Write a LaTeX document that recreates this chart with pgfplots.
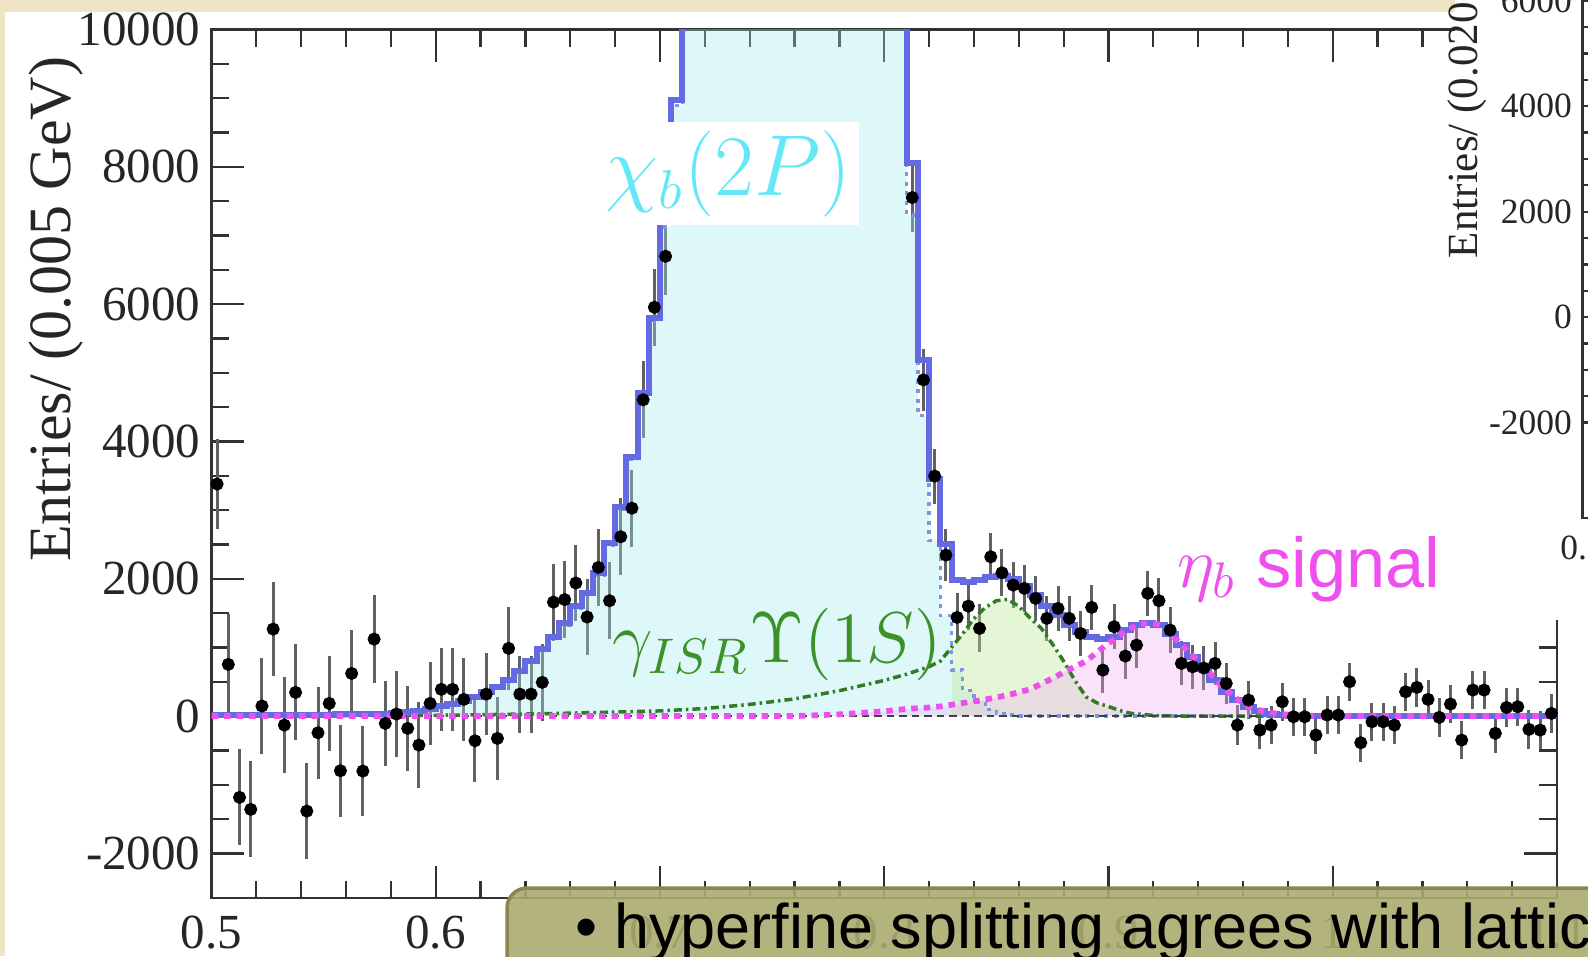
\documentclass[border=0pt]{standalone}
\usepackage{pgfplots}
\usepackage{pgfplotstable}
\pgfplotsset{compat=1.18}
\usepackage{fontspec}
\setmainfont{Liberation Serif}
\newfontfamily\helv{Liberation Sans}
\definecolor{beige}{RGB}{239,228,196}
\definecolor{fitblue}{RGB}{100,106,226}
\definecolor{chicyan}{RGB}{100,232,248}
\definecolor{cyanfill}{RGB}{161,235,241}
\definecolor{cyanedge}{RGB}{125,150,225}
\definecolor{isrgreen}{RGB}{60,145,40}
\definecolor{greenfill}{RGB}{189,232,149}
\definecolor{etamag}{RGB}{238,80,238}
\definecolor{pinkfill}{RGB}{241,169,241}
\definecolor{olivefill}{RGB}{171,171,112}
\definecolor{oliveedge}{RGB}{135,135,82}
\definecolor{axgray}{RGB}{50,50,50}

\pgfplotstableread{
x y e
0.5025 3380 650
0.5075 753 730
0.5125 -1184 700
0.5175 -1359 700
0.5225 146 700
0.5275 1267 690
0.5325 -131 700
0.5375 345 700
0.5425 -1384 700
0.5475 -243 670
0.5525 184 690
0.5575 -796 670
0.5625 621 640
0.5675 -801 660
0.5725 1121 640
0.5775 -107 620
0.5825 30 620
0.5875 -179 620
0.5925 -422 620
0.5975 185 600
0.6025 389 600
0.6075 389 600
0.6125 243 600
0.6175 -359 600
0.6225 320 600
0.6275 -325 600
0.6325 986 600
0.6375 320 560
0.6425 320 560
0.6475 491 560
0.6525 1660 560
0.6575 1697 560
0.6625 1938 560
0.6675 1443 560
0.6725 2165 560
0.6775 1680 560
0.6825 2612 560
0.6875 3028 560
0.6925 4607 560
0.6975 5954 560
0.7025 6697 560
0.8125 7552 500
0.8175 4897 450
0.8225 3495 400
0.8275 2345 380
0.8325 1437 350
0.8375 1602 350
0.8425 1277 350
0.8475 2320 340
0.8525 2087 340
0.8575 1908 340
0.8625 1860 340
0.8675 1714 330
0.8725 1423 330
0.8775 1568 330
0.8825 1423 330
0.8875 1204 330
0.8925 1583 330
0.8975 670 330
0.9025 1301 330
0.9075 874 330
0.9125 1034 330
0.9175 1787 330
0.9225 1680 330
0.9275 1253 330
0.9325 767 320
0.9375 718 320
0.9425 700 320
0.9475 767 310
0.9525 476 300
0.9575 -131 290
0.9625 233 280
0.9675 -204 280
0.9725 -131 280
0.9775 208 280
0.9825 -10 280
0.9875 -10 280
0.9925 -277 280
0.9975 15 280
1.0025 15 280
1.0075 500 280
1.0125 -388 280
1.0175 -83 280
1.0225 -83 280
1.0275 -131 280
1.0325 354 280
1.0375 418 280
1.0425 243 280
1.0475 -19 280
1.0525 175 280
1.0575 -350 280
1.0625 379 280
1.0675 379 280
1.0725 -252 280
1.0775 126 280
1.0825 136 280
1.0875 -194 280
1.0925 -204 280
1.0975 39 280
}\datatab

\pgfplotstableread{
x y
0.500 10
0.505 10
0.510 10
0.515 12
0.520 12
0.525 14
0.530 15
0.535 17
0.540 19
0.545 21
0.550 23
0.555 25
0.560 28
0.565 31
0.570 34
0.575 37
0.580 42
0.585 55
0.590 75
0.595 105
0.600 140
0.605 180
0.610 225
0.615 280
0.620 345
0.625 420
0.630 520
0.635 650
0.640 808
0.645 970
0.650 1150
0.655 1350
0.660 1600
0.665 1800
0.670 2080
0.675 2520
0.680 3050
0.685 3780
0.690 4700
0.695 5800
0.700 7200
0.705 8970
0.710 20000
0.810 8054
0.815 5185
0.820 3450
0.825 2500
0.830 1980
0.835 1960
0.840 1980
0.845 2030
0.850 2040
0.855 2000
0.860 1900
0.865 1760
0.870 1610
0.875 1470
0.880 1330
0.885 1230
0.890 1155
0.895 1130
0.900 1155
0.905 1250
0.910 1330
0.915 1360
0.920 1330
0.925 1200
0.930 1035
0.935 865
0.940 690
0.945 520
0.950 350
0.955 230
0.960 135
0.965 70
0.970 35
0.975 15
0.980 5
0.985 0
1.100 0
}\fittab

\pgfplotstableread{
x y
0.500 5
0.580 35
0.585 50
0.590 68
0.595 97
0.600 130
0.605 170
0.610 214
0.615 268
0.620 332
0.625 405
0.630 505
0.635 633
0.640 790
0.645 950
0.650 1128
0.655 1326
0.660 1575
0.665 1773
0.670 2050
0.675 2490
0.680 3018
0.685 3745
0.690 4663
0.695 5760
0.700 7125
0.705 8890
0.710 20000
0.810 7300
0.815 4375
0.820 2555
0.825 1460
0.830 670
0.835 370
0.840 200
0.845 100
0.850 40
0.855 15
0.860 0
1.100 0
}\chitab

\pgfplotstableread{
x y
0.500 0
0.600 10
0.650 35
0.700 75
0.720 110
0.740 170
0.760 250
0.780 370
0.800 520
0.810 610
0.820 720
0.825 800
0.830 1000
0.835 1200
0.840 1420
0.845 1580
0.850 1680
0.855 1700
0.860 1600
0.865 1430
0.870 1280
0.875 1050
0.880 800
0.885 520
0.890 280
0.895 190
0.900 140
0.905 80
0.910 40
0.920 10
0.930 0
1.100 0
}\isrtab

\pgfplotstableread{
x y
0.500 0
0.760 0
0.780 25
0.800 70
0.810 105
0.820 125
0.825 140
0.835 190
0.845 240
0.855 305
0.865 390
0.875 549
0.882 670
0.890 800
0.896 960
0.902 1107
0.908 1253
0.914 1340
0.918 1355
0.922 1335
0.926 1253
0.932 1058
0.938 864
0.944 670
0.950 451
0.956 282
0.962 140
0.968 80
0.975 35
0.985 8
0.995 0
1.100 0
}\etatab

\begin{document}
\begin{tikzpicture}
\path[use as bounding box] (0pt,0pt) rectangle (317.6pt,191.2pt);
\clip (0pt,0pt) rectangle (317.6pt,191.2pt);
\fill[beige] (0pt,0pt) rectangle (317.6pt,191.2pt);
\fill[white] (1.0pt,0pt) rectangle (317.6pt,188.9pt);
\begin{axis}[
  at={(42.3pt,11.6pt)}, anchor=south west,
  scale only axis, width=269.1pt, height=173.7pt,
  xmin=0.5, xmax=1.1, ymin=-2650, ymax=10000,
  xtick={0.5,0.6,0.7,0.8,0.9,1.0,1.1},
  xticklabels={0.5,0.6,0.7,0.8,0.9,1,1.1},
  ytick={-2000,0,2000,4000,6000,8000,10000},
  yticklabels={-2000,0,2000,4000,6000,8000,10000},
  scaled y ticks=false, scaled x ticks=false,
  minor x tick num=4, minor y tick num=3,
  tick align=inside,
  major tick length=6.5pt, minor tick length=3.5pt,
  axis line style={axgray, line width=0.45pt},
  tick style={axgray, line width=0.45pt},
  ticklabel style={font=\fontsize{9.8}{10}\selectfont, text=black!85},
  yticklabel style={xshift=1.3pt},
]
\addplot[only marks, mark=*, mark size=1.1pt, mark options={fill=black, draw=black},
  error bars/.cd, y dir=both, y explicit,
  error bar style={line width=0.6pt, black!62}, error mark=none]
  table[x=x, y=y, y error=e] {\datatab};
\addplot[const plot, draw=none, fill=cyanfill, fill opacity=0.35] table[x=x,y=y] {\chitab} \closedcycle;
\addplot[draw=none, fill=greenfill, fill opacity=0.38, restrict x to domain=0.83:0.95] table[x=x,y=y] {\isrtab} \closedcycle;
\addplot[draw=none, fill=pinkfill, fill opacity=0.32] table[x=x,y=y] {\etatab} \closedcycle;
\addplot[const plot, cyanedge, line width=0.65pt, dash pattern=on 0.8pt off 1.1pt] table[x=x,y=y] {\chitab};
\addplot[isrgreen!85!black, line width=0.7pt, dash pattern=on 1.6pt off 0.8pt on 0.5pt off 0.8pt] table[x=x,y=y] {\isrtab};
\addplot[black!75, line width=0.5pt, dash pattern=on 1.5pt off 1pt] coordinates {(0.5,0) (1.1,0)};
\addplot[const plot, fitblue, line width=1.2pt] table[x=x,y=y] {\fittab};
\addplot[etamag, line width=1.15pt, dash pattern=on 1.3pt off 1.2pt] table[x=x,y=y] {\etatab};
\node[fill=white, text=chicyan, inner sep=1.6pt, font=\fontsize{16}{16}\selectfont] at (axis cs:0.7305,7901) {$\chi_b(2P)$};
\node[text=isrgreen, anchor=base, inner sep=0pt, font=\fontsize{14.3}{14}\selectfont] at (axis cs:0.7522,780) {$\gamma_{ISR}\Upsilon(1S)$};
\node[text=etamag, anchor=base west, inner sep=0pt, font=\fontsize{14.1}{14}\selectfont\helv] at (axis cs:0.9305,1879) {$\eta_b$ signal};
\end{axis}
\node[rotate=90, anchor=east, inner sep=0pt, font=\fontsize{12}{12}\selectfont, text=black!85] at (11.2pt,180pt) {Entries/ (0.005 GeV)};
\fill[white] (291pt,67.2pt) rectangle (317.6pt,191.2pt);
\begin{axis}[
  at={(316.5pt,87.6pt)}, anchor=south west,
  scale only axis, width=60pt, height=114pt,
  xmin=0.5, xmax=1.1, ymin=-3810, ymax=7000,
  xtick={0.5}, xticklabels={0.5},
  ytick={-2000,0,2000,4000,6000},
  yticklabels={-2000,0,2000,4000,6000},
  scaled y ticks=false, scaled x ticks=false,
  minor y tick num=3, minor x tick num=4,
  tick align=inside, major tick length=4pt, minor tick length=2pt,
  axis line style={axgray, line width=0.45pt},
  tick style={axgray, line width=0.45pt},
  ticklabel style={font=\fontsize{7.1}{7.1}\selectfont, text=black!85},
  yticklabel style={xshift=1.4pt},
]
\addplot[draw=none] coordinates {(0.6,0)};
\end{axis}
\node[rotate=90, anchor=west, inner sep=0pt, font=\fontsize{8.6}{8.6}\selectfont, text=black!85] at (293.4pt,139.4pt) {Entries/ (0.020 GeV)};
\filldraw[fill=olivefill, fill opacity=0.9, draw=oliveedge, line width=0.7pt, rounded corners=4pt] (101.4pt,-10pt) rectangle (340pt,13.6pt);
\node[anchor=base, inner sep=0pt, font=\fontsize{12.6}{13}\helv] at (117.4pt,1.6pt) {•};
\node[anchor=base west, inner sep=0pt, font=\fontsize{12.6}{13}\helv] at (122.6pt,1.6pt) {hyperfine splitting agrees with lattice QCD};
\end{tikzpicture}
\end{document}
